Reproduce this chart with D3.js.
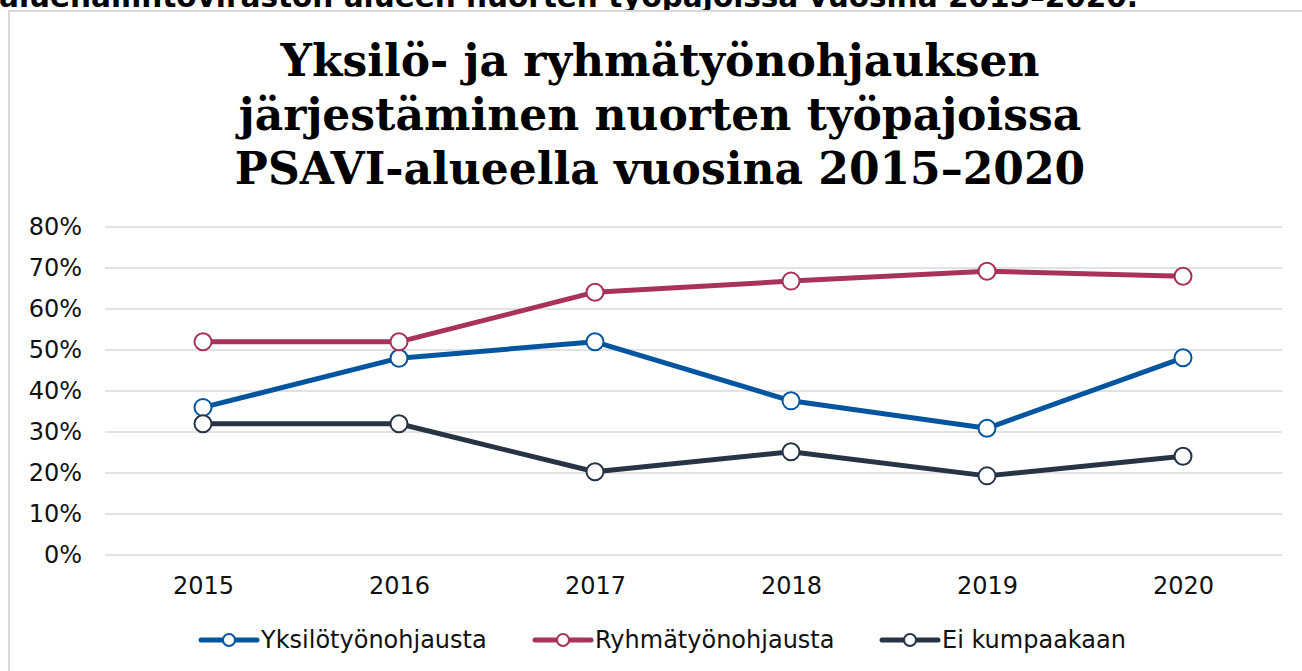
<!DOCTYPE html>
<html>
<head>
<meta charset="utf-8">
<script src="https://cdn.jsdelivr.net/npm/d3@7"></script>
<style>
  body { margin: 0; background: #fff; }
  svg { display: block; }
</style>
</head>
<body>
<svg id="chart" width="1302" height="671"></svg>
<script>
const years = ['2015', '2016', '2017', '2018', '2019', '2020']
const yksilo = [36, 48, 52, 37.6, 30.9, 48.1]
const ryhma = [52, 52, 64.1, 66.8, 69.2, 68]
const eiKumpaakaan = [32, 32, 20.3, 25.2, 19.3, 24.1]
const seriesNames = ['Yksilötyönohjausta', 'Ryhmätyönohjausta', 'Ei kumpaakaan']
const yTicks = [0, 10, 20, 30, 40, 50, 60, 70, 80]
const titleLines = ['Yksilö- ja ryhmätyönohjauksen', 'järjestäminen nuorten työpajoissa', 'PSAVI-alueella vuosina 2015–2020']

var colors = ['#0455a0', '#a93259', '#263445']
var series = [yksilo, ryhma, eiKumpaakaan].map((v, i) => ({
	name: seriesNames[i],
	color: colors[i],
	values: v.map((d, j) => ({ year: years[j], value: d }))
}));

var svg = d3.select('#chart');

// caption cut off at the top of the page
svg.append('text')
	.attr('x', -1).attr('y', 7)
	.attr('font-family', 'DejaVu Sans')
	.attr('font-weight', 'bold')
	.attr('font-size', 29.5)
	.attr('fill', '#000')
	.text('aluehallintoviraston alueen nuorten työpajoissa vuosina 2015–2020.');

// chart frame
svg.append('rect')
	.attr('x', 9).attr('y', 11)
	.attr('width', 1310).attr('height', 680)
	.attr('fill', '#fff')
	.attr('stroke', '#d9d9d9')
	.attr('stroke-width', 2);

var title = svg.append('text')
	.attr('text-anchor', 'middle')
	.attr('font-family', 'DejaVu Serif')
	.attr('font-weight', 'bold')
	.attr('font-size', 44)
	.attr('fill', '#000');
titleLines.forEach((t, i) => {
	title.append('tspan').attr('x', 660).attr('y', 76 + i * 54).text(t);
});

var x = d3.scalePoint().domain(years).range([105, 1281]).padding(0.5);
var y = d3.scaleLinear().domain([0, 80]).range([555, 227]);

// gridlines
svg.append('g')
	.selectAll('line')
	.data(yTicks)
	.join('line')
	.attr('x1', 105).attr('x2', 1282)
	.attr('y1', d => y(d)).attr('y2', d => y(d))
	.attr('stroke', '#d9d9d9')
	.attr('stroke-width', 1.5);

var yAxis = svg.append('g')
	.attr('transform', 'translate(86,0)')
	.call(d3.axisLeft(y).tickValues(yTicks).tickFormat(d => d + '%').tickSize(0).tickPadding(4));
yAxis.select('.domain').remove();
yAxis.selectAll('text')
	.attr('font-family', 'DejaVu Sans')
	.attr('font-size', 24)
	.attr('fill', '#111');

var xAxis = svg.append('g')
	.attr('transform', 'translate(0,573)')
	.call(d3.axisBottom(x).tickSize(0).tickPadding(4));
xAxis.select('.domain').remove();
xAxis.selectAll('text')
	.attr('font-family', 'DejaVu Sans')
	.attr('font-size', 24)
	.attr('fill', '#111');

var line = d3.line().x(d => x(d.year)).y(d => y(d.value));

var g = svg.append('g')
	.selectAll('g')
	.data(series)
	.join('g');

g.append('path')
	.attr('d', d => line(d.values))
	.attr('fill', 'none')
	.attr('stroke', d => d.color)
	.attr('stroke-width', 5)
	.attr('stroke-linejoin', 'round');

g.selectAll('circle')
	.data(d => d.values.map(v => Object.assign({ color: d.color }, v)))
	.join('circle')
	.attr('cx', d => x(d.year))
	.attr('cy', d => y(d.value))
	.attr('r', 8.5)
	.attr('fill', '#fff')
	.attr('stroke', d => d.color)
	.attr('stroke-width', 2);

// legend
var legendX = [201, 535, 882];
var legend = svg.append('g')
	.selectAll('g')
	.data(series)
	.join('g')
	.attr('transform', (d, i) => `translate(${legendX[i]},640)`);
legend.append('line')
	.attr('x1', 0).attr('x2', 56)
	.attr('stroke', d => d.color)
	.attr('stroke-width', 5)
	.attr('stroke-linecap', 'round');
legend.append('circle')
	.attr('cx', 28).attr('r', 6)
	.attr('fill', '#fff')
	.attr('stroke', d => d.color)
	.attr('stroke-width', 2);
legend.append('text')
	.attr('x', 60).attr('y', 8)
	.attr('font-family', 'DejaVu Sans')
	.attr('font-size', 24)
	.attr('fill', '#111')
	.text(d => d.name);
</script>
</body>
</html>
